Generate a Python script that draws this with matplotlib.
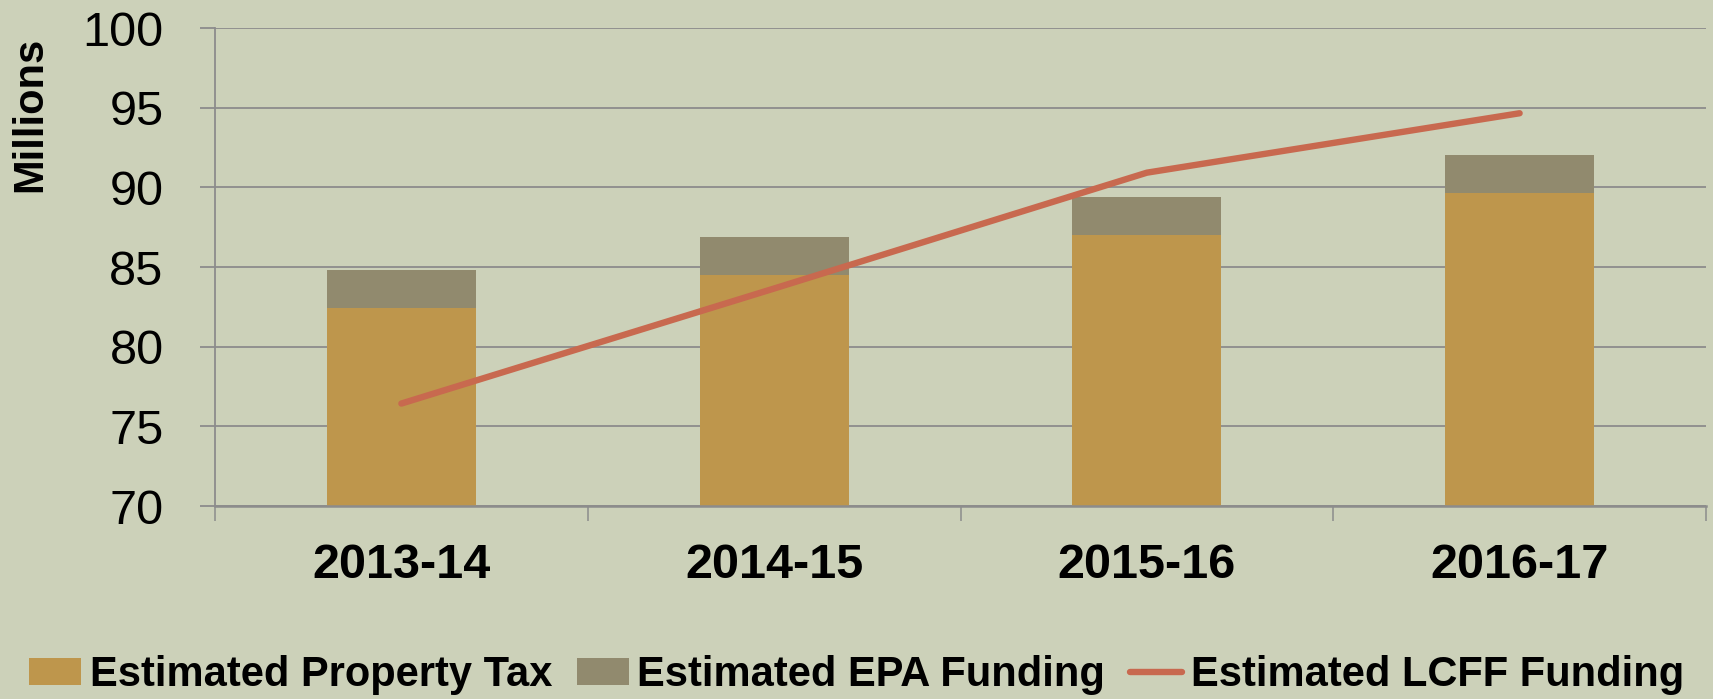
import numpy as np
import matplotlib
matplotlib.use("Agg")
import matplotlib.pyplot as plt
from matplotlib.ticker import FixedLocator

# data (millions)
years = ["2013-14", "2014-15", "2015-16", "2016-17"]
property_tax = [82.43, 84.50, 87.00, 89.63]
epa_funding = [2.39, 2.38, 2.42, 2.37]
lcff_funding = [76.43, 83.65, 90.92, 94.65]

bg = "#ccd1b9"
c_tax = "#be964c"
c_epa = "#918a6e"
c_lcff = "#c8694f"
grid_c = "#8c8c8c"

plt.rcParams["font.family"] = ["Liberation Sans", "DejaVu Sans"]

fig = plt.figure(figsize=(17.13, 6.99), dpi=100, facecolor=bg)
ax = fig.add_axes([215 / 1713, 1 - 506 / 699, (1706 - 215) / 1713, (506 - 28) / 699])
ax.set_facecolor(bg)

x = np.arange(len(years))
b1 = ax.bar(x, property_tax, width=0.4, color=c_tax, label="Estimated Property Tax", zorder=2)
b2 = ax.bar(x, epa_funding, width=0.4, bottom=property_tax, color=c_epa,
            label="Estimated EPA Funding", zorder=2)
l1, = ax.plot(x, lcff_funding, color=c_lcff, lw=4.6, solid_capstyle="round",
              label="Estimated LCFF Funding", zorder=3)

ax.set_ylim(70, 100)
ax.set_xlim(-0.5, len(years) - 0.5)
ax.set_yticks(np.arange(70, 101, 5))
ax.yaxis.grid(True, color=grid_c, lw=1.3, zorder=1)
ax.set_axisbelow(True)

ax.set_xticks(x)
ax.set_xticklabels(years, fontsize=35, fontweight="bold")
ax.xaxis.set_minor_locator(FixedLocator(np.arange(-0.5, len(years), 1)))
ax.tick_params(axis="x", which="major", length=0, pad=27)
ax.tick_params(axis="x", which="minor", length=11, width=1.1, color=grid_c)
ax.tick_params(axis="y", length=11, width=1.3, color=grid_c, labelsize=35, pad=26)

for side in ["top", "right"]:
    ax.spines[side].set_visible(False)
ax.spines["left"].set_color(grid_c)
ax.spines["left"].set_linewidth(1.3)
ax.spines["bottom"].set_color(grid_c)
ax.spines["bottom"].set_linewidth(1.8)

fig.text(30 / 1713, 1 - 114 / 699, "Millions", rotation=90, fontsize=30,
         fontweight="bold", ha="center", va="center")

fig.legend([b1, b2, l1], [b1.get_label(), b2.get_label(), l1.get_label()],
           loc="center", bbox_to_anchor=(0.5, 1 - 675 / 699), ncol=3, frameon=False,
           prop={"size": 30, "weight": "bold"}, handlelength=1.25, handleheight=0.6,
           handletextpad=0.2, columnspacing=0.6, borderaxespad=0)

fig.savefig("out.png", dpi=100, facecolor=bg)
